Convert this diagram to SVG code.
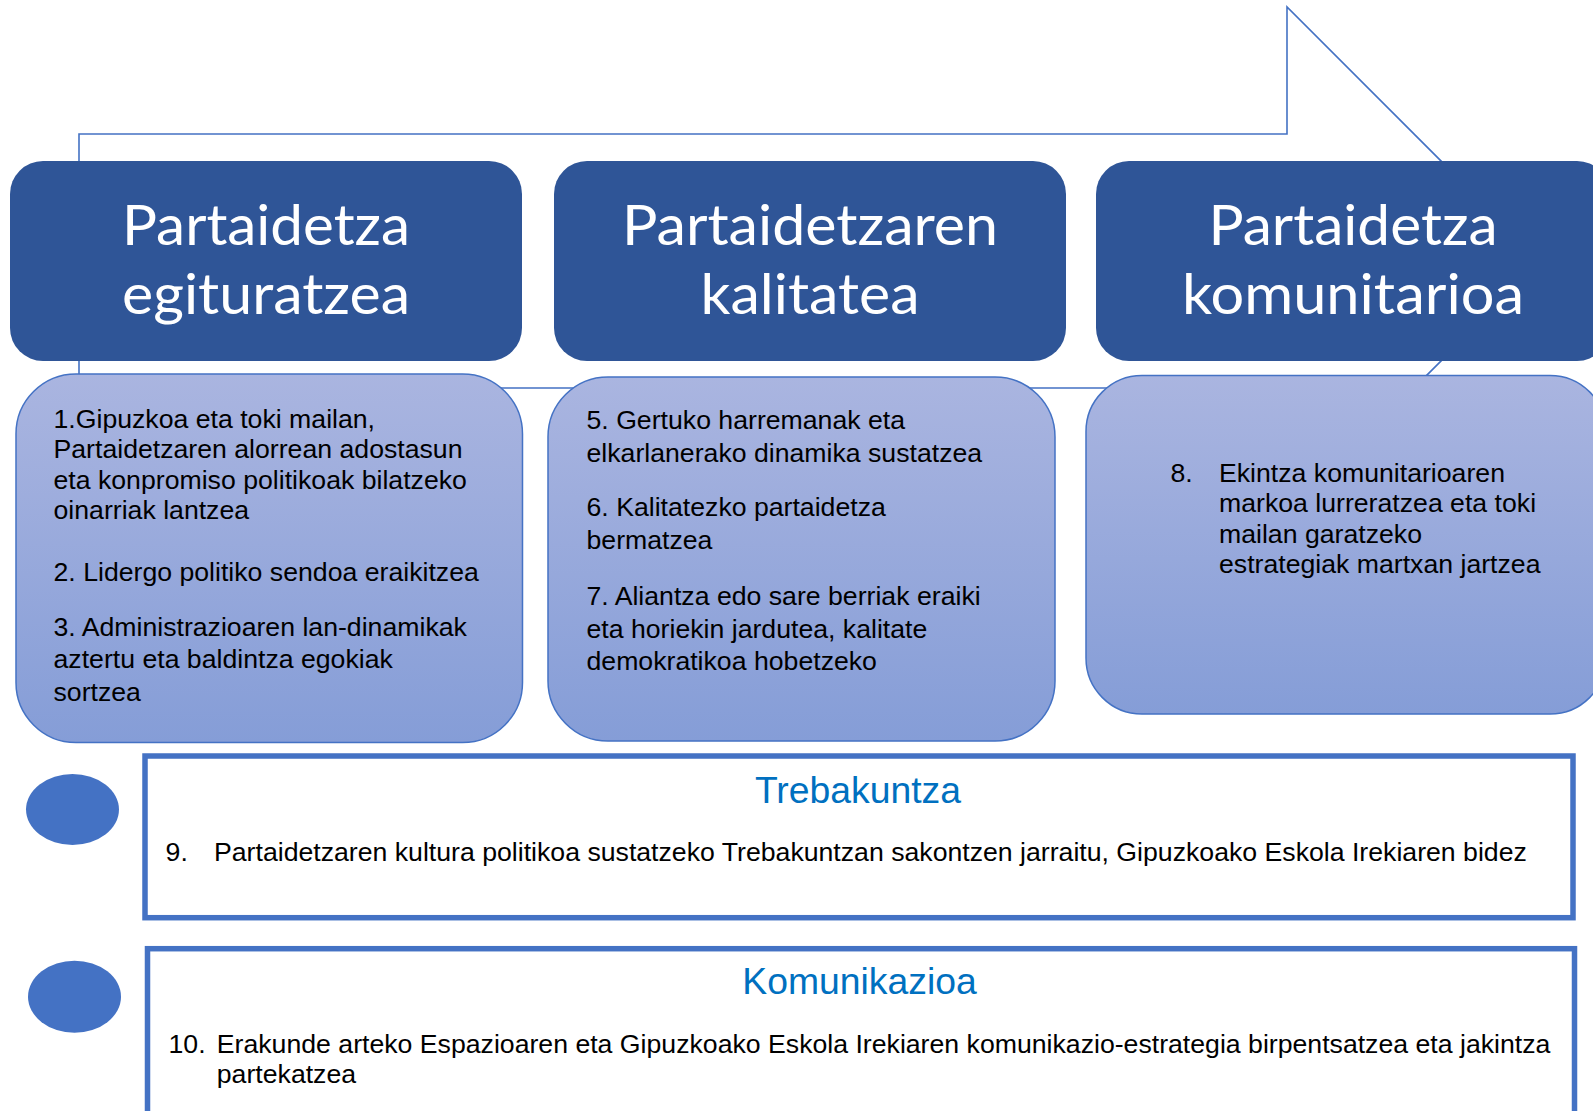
<svg xmlns="http://www.w3.org/2000/svg" width="1593" height="1111" viewBox="0 0 1593 1111">
  <defs>
    <linearGradient id="bodyGrad" x1="0" y1="0" x2="0" y2="1">
      <stop offset="0" stop-color="#AAB5E0"/>
      <stop offset="1" stop-color="#859DD7"/>
    </linearGradient>
  </defs>
  <style>
    .head { fill: #2F5597; }
    .headtxt { font-family: Lato, "Open Sans", "Liberation Sans", sans-serif; font-size: 57px; fill: #FFFFFF; text-anchor: middle; }
    .body { fill: url(#bodyGrad); stroke: #4472C4; stroke-width: 1.5; }
    .txt { font-family: "Liberation Sans", Arial, sans-serif; font-size: 26.67px; fill: #000000; }
    .frame { fill: #FFFFFF; stroke: #4472C4; stroke-width: 5.5; }
    .title { font-family: "Liberation Sans", Arial, sans-serif; font-size: 37.33px; fill: #0070C0; text-anchor: middle; }
    .dot { fill: #4472C4; }
    .conn { fill: none; stroke: #4472C4; stroke-width: 1.6; }
  </style>
  <rect width="1593" height="1111" fill="#FFFFFF"/>

  <g id="connectors">
    <path class="conn" d="M79,134 H1287 V7 L1541,261 L1287,515 V388 H79 Z"/>
  </g>

  <g id="header1">
    <rect class="head" x="10" y="161" width="512" height="200" rx="33" ry="33"/>
    <text class="headtxt" x="266" y="245" textLength="288" lengthAdjust="spacingAndGlyphs">Partaidetza</text>
    <text class="headtxt" x="266" y="314" textLength="288" lengthAdjust="spacingAndGlyphs">egituratzea</text>
  </g>
  <g id="header2">
    <rect class="head" x="554" y="161" width="512" height="200" rx="33" ry="33"/>
    <text class="headtxt" x="810" y="245" textLength="376" lengthAdjust="spacingAndGlyphs">Partaidetzaren</text>
    <text class="headtxt" x="810" y="314" textLength="219" lengthAdjust="spacingAndGlyphs">kalitatea</text>
  </g>
  <g id="header3">
    <rect class="head" x="1096" y="161" width="514" height="200" rx="33" ry="33"/>
    <text class="headtxt" x="1353" y="245" textLength="289" lengthAdjust="spacingAndGlyphs">Partaidetza</text>
    <text class="headtxt" x="1353" y="314" textLength="342" lengthAdjust="spacingAndGlyphs">komunitarioa</text>
  </g>

  <g id="body1">
    <rect class="body" x="16" y="374" width="506.5" height="368.5" rx="60" ry="60"/>
    <text class="txt" x="53.5" y="428">1.Gipuzkoa eta toki mailan,</text>
    <text class="txt" x="53.5" y="458">Partaidetzaren alorrean adostasun</text>
    <text class="txt" x="53.5" y="488.5">eta konpromiso politikoak bilatzeko</text>
    <text class="txt" x="53.5" y="519">oinarriak lantzea</text>
    <text class="txt" x="53.5" y="580.5">2. Lidergo politiko sendoa eraikitzea</text>
    <text class="txt" x="53.5" y="635.5">3. Administrazioaren lan-dinamikak</text>
    <text class="txt" x="53.5" y="667.5">aztertu eta baldintza egokiak</text>
    <text class="txt" x="53.5" y="700.5">sortzea</text>
  </g>
  <g id="body2">
    <rect class="body" x="548" y="377" width="507" height="364" rx="60" ry="60"/>
    <text class="txt" x="586.5" y="428.5">5. Gertuko harremanak eta</text>
    <text class="txt" x="586.5" y="462">elkarlanerako dinamika sustatzea</text>
    <text class="txt" x="586.5" y="516">6. Kalitatezko partaidetza</text>
    <text class="txt" x="586.5" y="549">bermatzea</text>
    <text class="txt" x="586.5" y="604.5">7. Aliantza edo sare berriak eraiki</text>
    <text class="txt" x="586.5" y="637.5">eta horiekin jardutea, kalitate</text>
    <text class="txt" x="586.5" y="670">demokratikoa hobetzeko</text>
  </g>
  <g id="body3">
    <rect class="body" x="1086" y="375.5" width="520" height="338.5" rx="56" ry="56"/>
    <text class="txt" x="1170.5" y="482">8.</text>
    <text class="txt" x="1219" y="482">Ekintza komunitarioaren</text>
    <text class="txt" x="1219" y="512">markoa lurreratzea eta toki</text>
    <text class="txt" x="1219" y="542.5">mailan garatzeko</text>
    <text class="txt" x="1219" y="573">estrategiak martxan jartzea</text>
  </g>

  <g id="dot1">
    <ellipse class="dot" cx="72.5" cy="809.5" rx="46.5" ry="35.5"/>
  </g>
  <g id="trebakuntza">
    <rect class="frame" x="145" y="756" width="1428" height="161.7"/>
    <text class="title" x="858" y="803">Trebakuntza</text>
    <text class="txt" x="165.6" y="861">9.</text>
    <text class="txt" x="214" y="861">Partaidetzaren kultura politikoa sustatzeko Trebakuntzan sakontzen jarraitu, Gipuzkoako Eskola Irekiaren bidez</text>
  </g>

  <g id="dot2">
    <ellipse class="dot" cx="74.5" cy="996.7" rx="46.5" ry="36"/>
  </g>
  <g id="komunikazioa">
    <rect class="frame" x="147.5" y="948.7" width="1427" height="200"/>
    <text class="title" x="859.5" y="994">Komunikazioa</text>
    <text class="txt" x="168.5" y="1053">10.</text>
    <text class="txt" x="216.8" y="1053">Erakunde arteko Espazioaren eta Gipuzkoako Eskola Irekiaren komunikazio-estrategia birpentsatzea eta jakintza</text>
    <text class="txt" x="216.8" y="1083">partekatzea</text>
  </g>
</svg>
